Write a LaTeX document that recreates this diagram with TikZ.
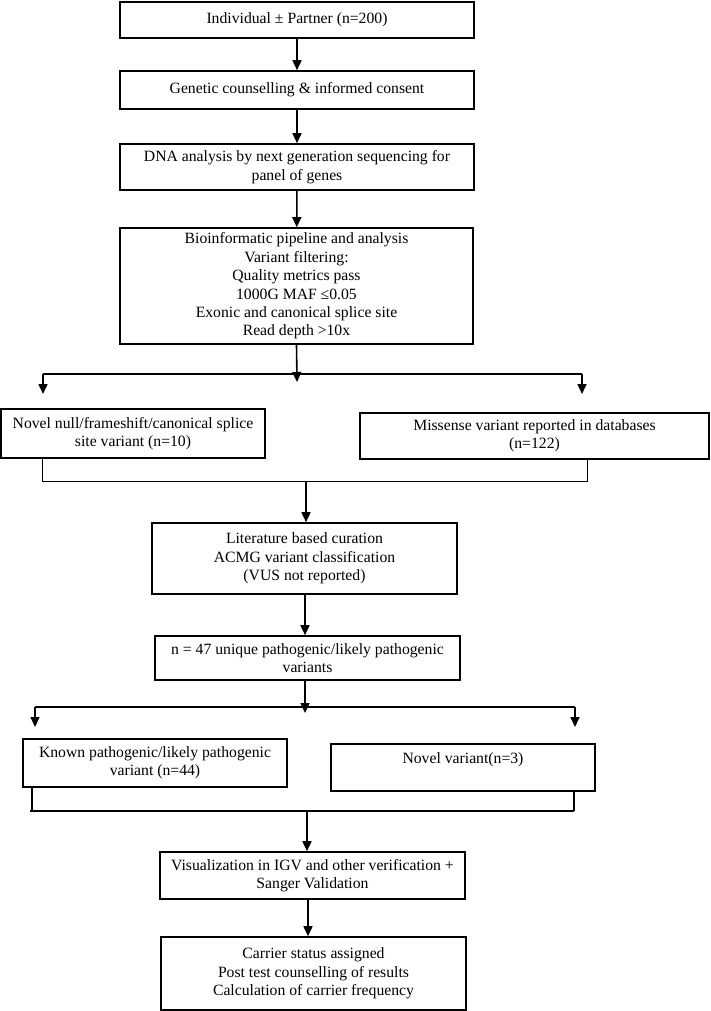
\documentclass[tikz,border=0pt]{standalone}
\usepackage{fontspec}
\setmainfont{Liberation Serif}
\usetikzlibrary{arrows.meta}
\begin{document}
\begin{tikzpicture}[x=1pt,y=-1pt,
  box/.style={draw, line width=1.6pt, inner sep=0pt, align=center,
    font=\fontsize{15.7}{18.4}\selectfont},
  arr/.style={line width=1.6pt, -{Triangle[length=10pt,width=9pt]}},
  link/.style={line width=1.6pt},
  thinlink/.style={line width=0.9pt},
  medlink/.style={line width=1.3pt}]
\useasboundingbox (0,0) rectangle (710,1011);

\node[box, minimum width=354, minimum height=36] (b1) at (297,20) {Individual ± Partner (n=200)};
\node[box, minimum width=354, minimum height=38] (b2) at (297,90) {Genetic counselling \& informed consent};
\node[box, minimum width=354, minimum height=46] (b3) at (297,167) {DNA analysis by next generation sequencing for\\panel of genes};
\node[box, minimum width=353, minimum height=116] (b4) at (296.5,286) {Bioinformatic pipeline and analysis\\Variant filtering:\\Quality metrics pass\\1000G MAF ≤0.05\\Exonic and canonical splice site\\Read depth >10x};
\node[box, minimum width=264, minimum height=49] (b5) at (133,433.5) {Novel null/frameshift/canonical splice\\site variant (n=10)};
\node[box, minimum width=349, minimum height=46] (b6) at (534.5,436) {Missense variant reported in databases\\(n=122)};
\node[box, minimum width=305, minimum height=71] (b7) at (304.5,558.5) {Literature based curation\\ACMG variant classification\\(VUS not reported)};
\node[box, minimum width=305, minimum height=44] (b8) at (307.5,658) {n = 47 unique pathogenic/likely pathogenic\\variants};
\node[box, minimum width=264, minimum height=48] (b9) at (155,763) {Known pathogenic/likely pathogenic\\variant (n=44)};
\node[box, minimum width=264, minimum height=47] (b10) at (463,767.5) {Novel variant(n=3)\\\mbox{}};
\node[box, minimum width=305, minimum height=47] (b11) at (312.5,875.5) {Visualization in IGV and other verification +\\Sanger Validation};
\node[box, minimum width=305, minimum height=73] (b12) at (313.5,973.5) {Carrier status assigned\\Post test counselling of results\\Calculation of carrier frequency};

% straight arrows
\draw[arr] (b1) -- (b2);
\draw[arr] (b2) -- (b3);
\draw[arr] (b3) -- (b4);

% first branch
\coordinate (j1) at (297,382);
\coordinate (l1) at (43,374);
\coordinate (r1) at (582,374);
\coordinate (l1e) at (43,394);
\coordinate (r1e) at (582,394);
\draw[arr] (b4.south) -- (j1);
\draw[link] (l1) -- (r1);
\draw[arr] (l1) -- (l1e);
\draw[arr] (r1) -- (r1e);

% first bracket
\coordinate (bl1) at (42,481);
\coordinate (br1) at (587,481);
\draw[thinlink] (42,459) -- (bl1) -- (br1) -- (587,459);
\coordinate (m1) at (306,481);
\draw[arr] (m1) -- (m1 |- b7.north);
\draw[arr] (b7.south -| 305,0) -- (b8.north -| 305,0);

% second branch
\coordinate (j2) at (305,713);
\coordinate (l2) at (35,707);
\coordinate (r2) at (575,707);
\coordinate (l2e) at (35,727);
\coordinate (r2e) at (575,727);
\draw[arr] (b8.south -| 305,0) -- (j2);
\draw[link] (l2) -- (r2);
\draw[arr] (l2) -- (l2e);
\draw[arr] (r2) -- (r2e);

% second bracket
\coordinate (bl2) at (30,811);
\coordinate (br2) at (574,811);
\draw[medlink] (32,787) -- (32,811);
\draw[medlink] (574,791) -- (br2);
\draw[medlink] (bl2) -- (br2);
\coordinate (m2) at (307,811);
\draw[arr] (m2) -- (m2 |- b11.north);
\draw[arr] (b11.south -| 308,0) -- (b12.north -| 308,0);
\end{tikzpicture}
\end{document}
